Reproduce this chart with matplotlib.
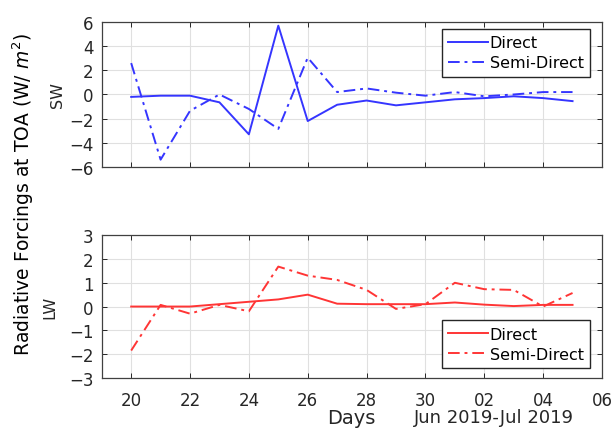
import matplotlib
matplotlib.use("Agg")
import matplotlib.pyplot as plt
import matplotlib.dates as mdates
import numpy as np
import pandas as pd

plt.rcParams["font.family"] = ["DejaVu Sans"]

days = pd.date_range("2019-06-20", "2019-07-05", freq="D")

sw_direct = [-0.2, -0.1, -0.1, -0.65, -3.3, 5.7, -2.2, -0.85, -0.5, -0.9,
             -0.65, -0.4, -0.3, -0.15, -0.3, -0.55]
sw_semi = [2.6, -5.4, -1.35, 0.0, -1.2, -2.85, 3.05, 0.2, 0.5, 0.15,
           -0.1, 0.2, -0.15, 0.0, 0.2, 0.2]
lw_direct = [0.0, 0.0, 0.0, 0.1, 0.2, 0.3, 0.5, 0.12, 0.1, 0.1,
             0.1, 0.17, 0.08, 0.02, 0.07, 0.07]
lw_semi = [-1.85, 0.07, -0.3, 0.07, -0.2, 1.68, 1.3, 1.12, 0.7, -0.1,
           0.1, 1.0, 0.73, 0.7, 0.0, 0.57]

BLUE = "#3535ff"
RED = "#ff3535"
TXT = "#262626"
DASHDOT = (0, (6, 2.5, 1.5, 2.5))

fig = plt.figure(figsize=(6.13, 4.35), dpi=100)
ax1 = fig.add_axes([0.166, 0.614, 0.816, 0.333])
ax2 = fig.add_axes([0.166, 0.129, 0.816, 0.328])

x0 = pd.Timestamp("2019-06-19")
x1 = pd.Timestamp("2019-07-06")


def style(ax, ylim, yticks):
    ax.set_xlim(x0, x1)
    ax.set_ylim(*ylim)
    ax.set_yticks(yticks)
    ax.xaxis.set_major_locator(mdates.DayLocator(bymonthday=[20, 22, 24, 26, 28, 30, 2, 4, 6]))
    ax.xaxis.set_major_formatter(mdates.DateFormatter("%d"))
    ax.grid(True, color="#e0e0e0", linewidth=0.8)
    ax.set_axisbelow(True)
    ax.tick_params(direction="in", top=True, right=True, length=3.5,
                   labelsize=12, colors=TXT, width=0.7)
    ax.tick_params(axis="x", pad=9.5)
    ax.tick_params(axis="y", pad=6)
    for s in ax.spines.values():
        s.set_color("#404040")
        s.set_linewidth(0.9)


def legend(ax, anchor, loc):
    leg = ax.legend(loc=loc, bbox_to_anchor=anchor, fontsize=11.5, fancybox=False,
                    framealpha=1, edgecolor=TXT, handlelength=2.5,
                    handletextpad=0.1, borderaxespad=0, labelspacing=0.3,
                    borderpad=0.4)
    leg.get_frame().set_linewidth(1.0)


ax1.plot(days, sw_direct, color=BLUE, lw=1.4, label="Direct")
ax1.plot(days, sw_semi, color=BLUE, lw=1.4, ls=DASHDOT, label="Semi-Direct")
style(ax1, (-6, 6), np.arange(-6, 7, 2))
ax1.tick_params(labelbottom=False)
ax1.set_ylabel("SW", fontsize=11.5, color=TXT, labelpad=3)
legend(ax1, (0.976, 0.952), "upper right")

ax2.plot(days, lw_direct, color=RED, lw=1.4, label="Direct")
ax2.plot(days, lw_semi, color=RED, lw=1.4, ls=DASHDOT, label="Semi-Direct")
style(ax2, (-3, 3), np.arange(-3, 4, 1))
ax2.set_ylabel("LW", fontsize=11.5, color=TXT, labelpad=8)
legend(ax2, (0.976, 0.07), "lower right")

fig.text(0.038, 0.552, "Radiative Forcings at TOA (W/ $m^2$)", rotation=90,
         ha="center", va="center", fontsize=13.5, color="black")
fig.text(0.573, 0.037, "Days", ha="center", va="center", fontsize=14, color=TXT)
fig.text(0.805, 0.039, "Jun 2019-Jul 2019", ha="center", va="center",
         fontsize=13, color=TXT)

fig.savefig("out.png", dpi=100, facecolor="white")
